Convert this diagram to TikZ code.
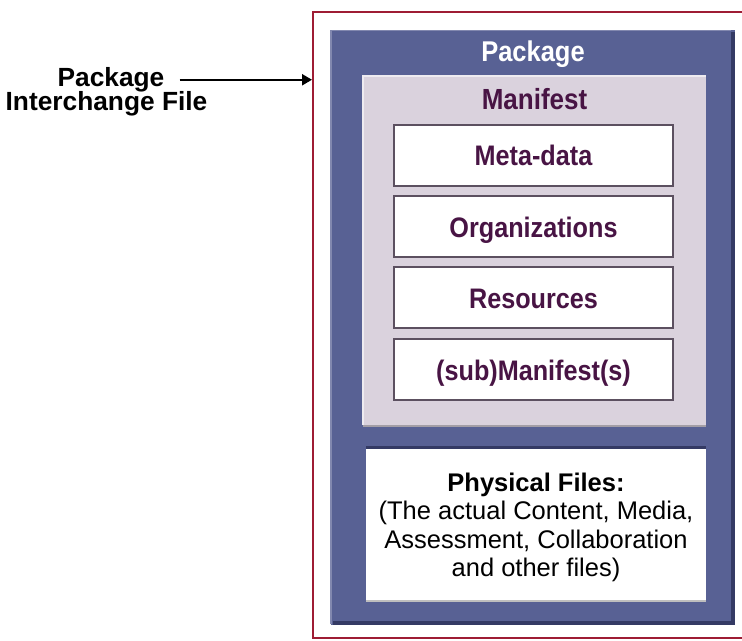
\documentclass[tikz,border=0pt]{standalone}
\usepackage{fontspec}
\setmainfont{Liberation Sans}
\usetikzlibrary{arrows.meta}
\definecolor{pkgblue}{RGB}{88,97,148}
\definecolor{pkgshadow}{RGB}{52,58,100}
\definecolor{manifestgrey}{RGB}{218,210,221}
\definecolor{textpurple}{RGB}{72,20,68}
\definecolor{framered}{RGB}{158,28,52}
\definecolor{boxborder}{RGB}{92,80,96}
\newcommand{\tallish}[1]{\scalebox{1}[1.12]{#1}}
\begin{document}
\begin{tikzpicture}[x=1bp,y=-1bp,
  framebox/.style={draw=framered,line width=2.2bp},
  lbl/.style={font=\fontsize{26.3bp}{28bp}\selectfont\bfseries,inner sep=0pt,text=black},
  pkgtitle/.style={font=\fontsize{25.5bp}{28bp}\selectfont\bfseries,inner sep=0pt,text=white},
  maniftitle/.style={font=\fontsize{26bp}{28bp}\selectfont\bfseries,inner sep=0pt,text=textpurple},
  manifestbox/.style={fill=manifestgrey,inner sep=0pt},
  itembox/.style={draw=boxborder,line width=1.1bp,fill=white,inner sep=0pt,
    minimum width=279bp,minimum height=61bp,text height=21bp,text depth=0bp,
    font=\fontsize{25.2bp}{28bp}\selectfont\bfseries,text=textpurple},
  physbox/.style={fill=white,inner sep=0pt,minimum width=340bp,minimum height=151bp},
  phystext/.style={align=center,inner sep=0pt,text=black,
    font=\fontsize{25.5bp}{28.4bp}\selectfont},
  arrowline/.style={draw=black,line width=2.2bp,-{Triangle[length=10bp,width=11bp]}}
]
\useasboundingbox (0,0) rectangle (742,641);
\fill[white] (0,0) rectangle (742,641);
\clip (0,0) rectangle (742,641);

% outer frame (interchange file)
\draw[framebox] (760,12) -- (313,12) -- (313,638) -- (760,638);

% package
\fill[pkgblue] (331,30) rectangle (735,625);
\fill[pkgshadow] (731,32) rectangle (735,625);
\fill[pkgshadow] (333,621) rectangle (735,625);
\draw[white!25!pkgblue,line width=1.2bp] (331,624) -- (331,30.6) -- (731,30.6);
\node[pkgtitle,anchor=base] (pkgtitle) at (533,62) {\tallish{Package}};

% manifest
\node[manifestbox,minimum width=343bp,minimum height=349bp] (manifest) at (534.5,250.5) {};
\draw[white!55!manifestgrey,line width=2bp] (manifest.south west) -- (manifest.north west) -- (manifest.north east);
\draw[black!25!manifestgrey,line width=1.5bp] ([yshift=-0.75bp]manifest.south west) -- ([yshift=-0.75bp]manifest.south east);
\node[maniftitle,anchor=base] (maniftitle) at (534.5,110) {\tallish{Manifest}};

\node[itembox] (metadata) at (533.5,155.5) {\tallish{Meta-data}};
\node[itembox] (orgs) at (533.5,226.5) {\tallish{Organizations}};
\node[itembox] (resources) at (533.5,297.5) {\tallish{Resources}};
\node[itembox] (submanifest) at (533.5,369.5) {\tallish{(sub)Manifest(s)}};

% physical files
\draw[pkgshadow,line width=3bp] (366,447.5) -- (706,447.5);
\node[physbox] (physical) at (536,524.5) {};
\draw[black!25,line width=1.5bp] ([yshift=-0.75bp]physical.south west) -- ([yshift=-0.75bp]physical.south east);
\node[phystext] (phystext) at (536,527.5) {\textbf{Physical Files:}\\(The actual Content, Media,\\Assessment, Collaboration\\and other files)};

% left label and arrow
\node[lbl,anchor=base] (lblA) at (111,86.5) {Package};
\node[lbl,anchor=base] (lblB) at (106.5,110.5) {Interchange File};
\coordinate (frameL) at (312,78);
\draw[arrowline] ([xshift=15bp]lblA.east) -- (lblA.east -| frameL);
\end{tikzpicture}
\end{document}
